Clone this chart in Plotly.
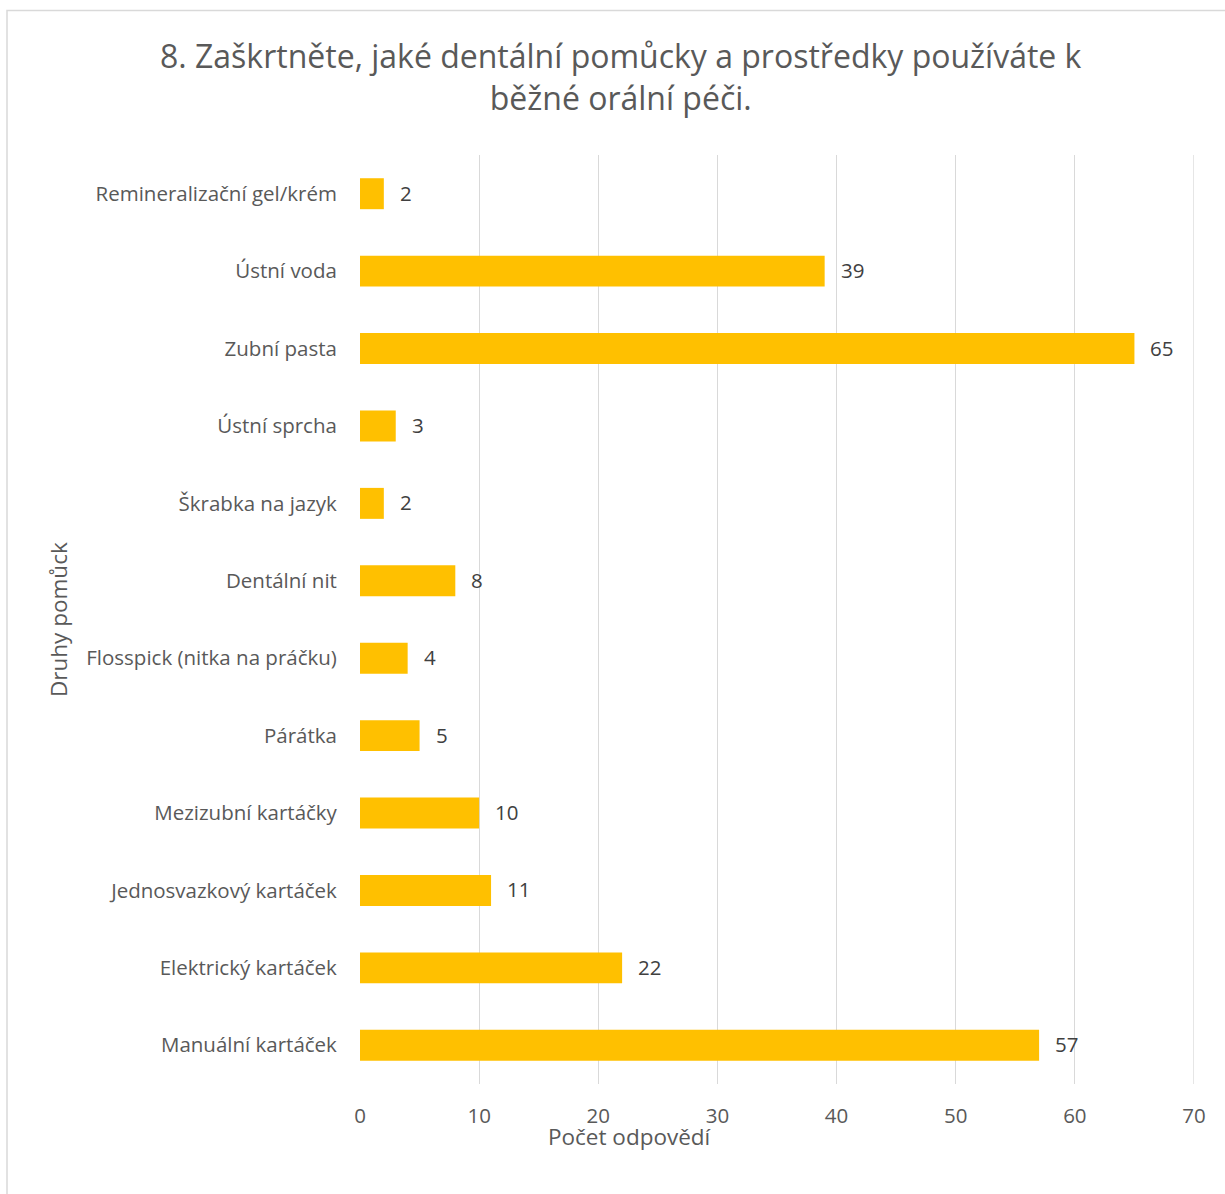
import plotly.graph_objects as go

categories = [
    "Remineralizační gel/krém",
    "Ústní voda",
    "Zubní pasta",
    "Ústní sprcha",
    "Škrabka na jazyk",
    "Dentální nit",
    "Flosspick (nitka na práčku)",
    "Párátka",
    "Mezizubní kartáčky",
    "Jednosvazkový kartáček",
    "Elektrický kartáček",
    "Manuální kartáček",
]
values = [2, 39, 65, 3, 2, 8, 4, 5, 10, 11, 22, 57]
x_ticks = [0, 10, 20, 30, 40, 50, 60, 70]

title_text = "8. Zaškrtněte, jaké dentální pomůcky a prostředky používáte k<br>běžné orální péči."
x_title = "Počet odpovědí"
y_title = "Druhy pomůck"

W, H = 1225, 1194
L, R, T, B = 360, 31, 155, 110
pw = W - L - R
ph = H - T - B

def px(xp):
    return (xp - L) / pw

def py(yp):
    return (H - B - yp) / ph

FONT = "Open Sans"
GRID = "#D9D9D9"

fig = go.Figure()
fig.add_trace(go.Bar(
    x=values,
    y=categories,
    orientation="h",
    marker=dict(color="#FFC000", line=dict(width=0)),
    width=0.4,
    hoverinfo="x+y",
))

annotations = []
for c, v in zip(categories, values):
    annotations.append(dict(
        x=v, y=c, xref="x", yref="y", text=str(v), showarrow=False,
        xanchor="left", yanchor="middle", xshift=14, yshift=1,
        font=dict(family=FONT, size=20.5, color="#404040"),
    ))

annotations.append(dict(
    x=px(630), y=py(1136), xref="paper", yref="paper", text=x_title,
    showarrow=False, xanchor="center", yanchor="middle",
    font=dict(family=FONT, size=22.5, color="#595959"),
))
annotations.append(dict(
    x=px(58), y=py(620), xref="paper", yref="paper", text=y_title,
    showarrow=False, xanchor="center", yanchor="middle", textangle=-90,
    font=dict(family=FONT, size=22.5, color="#595959"),
))
annotations.append(dict(
    x=px(621), y=py(77), xref="paper", yref="paper", text=title_text,
    showarrow=False, xanchor="center", yanchor="middle",
    font=dict(family=FONT, size=32, color="#595959"),
))

shapes = [dict(
    type="rect", xref="paper", yref="paper",
    x0=px(7), x1=px(W + 20), y0=py(H + 20), y1=py(10.5),
    line=dict(color=GRID, width=1.5), fillcolor="rgba(0,0,0,0)", layer="below",
)]
# last gridline at the right edge of the value axis
shapes.append(dict(
    type="line", xref="x", yref="paper", x0=x_ticks[-1], x1=x_ticks[-1], y0=0, y1=1,
    line=dict(color=GRID, width=1.3), layer="below",
))

fig.update_layout(
    width=W, height=H,
    margin=dict(l=L, r=R, t=T, b=B, pad=0),
    paper_bgcolor="white", plot_bgcolor="white",
    showlegend=False,
    bargap=0.6,
    annotations=annotations,
    shapes=shapes,
    xaxis=dict(
        range=[0, 70], tickvals=x_ticks, ticktext=[str(t) for t in x_ticks],
        showgrid=True, gridcolor=GRID, gridwidth=1.3,
        zeroline=False, showline=False,
        ticks="outside", ticklen=13, tickcolor="rgba(0,0,0,0)",
        tickfont=dict(family=FONT, size=20.5, color="#595959"),
    ),
    yaxis=dict(
        autorange="reversed", showgrid=False, zeroline=False, showline=False,
        ticks="outside", ticklen=18, tickcolor="rgba(0,0,0,0)",
        tickfont=dict(family=FONT, size=20.5, color="#595959"),
    ),
)

fig.write_html(
    "out.html",
    config={"displayModeBar": False},
    post_script="document.body.style.margin='0';document.body.style.overflow='hidden';",
)
